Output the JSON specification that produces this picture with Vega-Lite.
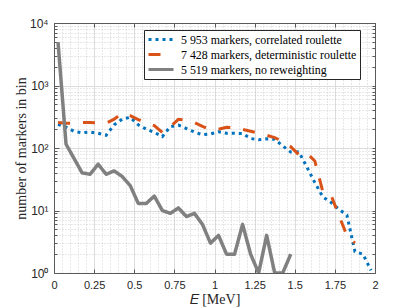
{
  "$schema": "https://vega.github.io/schema/vega-lite/v6.json",
  "width": 321,
  "height": 250,
  "autosize": {"type": "none"},
  "padding": {"left": 54, "top": 23, "right": 40, "bottom": 35},
  "background": "white",
  "config": {
    "view": {"stroke": null},
    "legend": {
      "orient": "none", "legendX": 90, "legendY": 7,
      "padding": 3, "strokeColor": "#262626", "fillColor": "white",
      "labelFont": "Liberation Serif", "labelFontSize": 11.9, "labelColor": "black",
      "symbolType": "M-1,0H4", "symbolSize": 100, "symbolStrokeWidth": 3,
      "rowPadding": 2, "labelOffset": 21, "labelLimit": 0, "cornerRadius": 0
    }
  },
  "datasets": {
    "pts": [
      {"E": 0.025, "n": 240, "s": "5 953 markers, correlated roulette"},
      {"E": 0.075, "n": 215, "s": "5 953 markers, correlated roulette"},
      {"E": 0.125, "n": 185, "s": "5 953 markers, correlated roulette"},
      {"E": 0.175, "n": 175, "s": "5 953 markers, correlated roulette"},
      {"E": 0.225, "n": 180, "s": "5 953 markers, correlated roulette"},
      {"E": 0.275, "n": 172, "s": "5 953 markers, correlated roulette"},
      {"E": 0.325, "n": 160, "s": "5 953 markers, correlated roulette"},
      {"E": 0.375, "n": 235, "s": "5 953 markers, correlated roulette"},
      {"E": 0.425, "n": 290, "s": "5 953 markers, correlated roulette"},
      {"E": 0.475, "n": 310, "s": "5 953 markers, correlated roulette"},
      {"E": 0.525, "n": 235, "s": "5 953 markers, correlated roulette"},
      {"E": 0.575, "n": 200, "s": "5 953 markers, correlated roulette"},
      {"E": 0.625, "n": 178, "s": "5 953 markers, correlated roulette"},
      {"E": 0.675, "n": 152, "s": "5 953 markers, correlated roulette"},
      {"E": 0.725, "n": 220, "s": "5 953 markers, correlated roulette"},
      {"E": 0.775, "n": 232, "s": "5 953 markers, correlated roulette"},
      {"E": 0.825, "n": 205, "s": "5 953 markers, correlated roulette"},
      {"E": 0.875, "n": 180, "s": "5 953 markers, correlated roulette"},
      {"E": 0.925, "n": 163, "s": "5 953 markers, correlated roulette"},
      {"E": 0.975, "n": 168, "s": "5 953 markers, correlated roulette"},
      {"E": 1.025, "n": 182, "s": "5 953 markers, correlated roulette"},
      {"E": 1.075, "n": 172, "s": "5 953 markers, correlated roulette"},
      {"E": 1.125, "n": 172, "s": "5 953 markers, correlated roulette"},
      {"E": 1.175, "n": 170, "s": "5 953 markers, correlated roulette"},
      {"E": 1.225, "n": 142, "s": "5 953 markers, correlated roulette"},
      {"E": 1.275, "n": 135, "s": "5 953 markers, correlated roulette"},
      {"E": 1.325, "n": 140, "s": "5 953 markers, correlated roulette"},
      {"E": 1.375, "n": 138, "s": "5 953 markers, correlated roulette"},
      {"E": 1.425, "n": 108, "s": "5 953 markers, correlated roulette"},
      {"E": 1.475, "n": 86, "s": "5 953 markers, correlated roulette"},
      {"E": 1.525, "n": 87, "s": "5 953 markers, correlated roulette"},
      {"E": 1.575, "n": 50, "s": "5 953 markers, correlated roulette"},
      {"E": 1.625, "n": 28, "s": "5 953 markers, correlated roulette"},
      {"E": 1.675, "n": 16.5, "s": "5 953 markers, correlated roulette"},
      {"E": 1.725, "n": 13.5, "s": "5 953 markers, correlated roulette"},
      {"E": 1.775, "n": 10.5, "s": "5 953 markers, correlated roulette"},
      {"E": 1.825, "n": 8.4, "s": "5 953 markers, correlated roulette"},
      {"E": 1.875, "n": 2.2, "s": "5 953 markers, correlated roulette"},
      {"E": 1.925, "n": 2, "s": "5 953 markers, correlated roulette"},
      {"E": 1.975, "n": 1.1, "s": "5 953 markers, correlated roulette"},
      {"E": 0.025, "n": 255, "s": "7 428 markers, deterministic roulette"},
      {"E": 0.075, "n": 250, "s": "7 428 markers, deterministic roulette"},
      {"E": 0.125, "n": 250, "s": "7 428 markers, deterministic roulette"},
      {"E": 0.175, "n": 255, "s": "7 428 markers, deterministic roulette"},
      {"E": 0.225, "n": 255, "s": "7 428 markers, deterministic roulette"},
      {"E": 0.275, "n": 252, "s": "7 428 markers, deterministic roulette"},
      {"E": 0.325, "n": 250, "s": "7 428 markers, deterministic roulette"},
      {"E": 0.375, "n": 290, "s": "7 428 markers, deterministic roulette"},
      {"E": 0.425, "n": 360, "s": "7 428 markers, deterministic roulette"},
      {"E": 0.475, "n": 330, "s": "7 428 markers, deterministic roulette"},
      {"E": 0.525, "n": 285, "s": "7 428 markers, deterministic roulette"},
      {"E": 0.575, "n": 255, "s": "7 428 markers, deterministic roulette"},
      {"E": 0.625, "n": 228, "s": "7 428 markers, deterministic roulette"},
      {"E": 0.675, "n": 178, "s": "7 428 markers, deterministic roulette"},
      {"E": 0.725, "n": 220, "s": "7 428 markers, deterministic roulette"},
      {"E": 0.775, "n": 288, "s": "7 428 markers, deterministic roulette"},
      {"E": 0.825, "n": 280, "s": "7 428 markers, deterministic roulette"},
      {"E": 0.875, "n": 255, "s": "7 428 markers, deterministic roulette"},
      {"E": 0.925, "n": 222, "s": "7 428 markers, deterministic roulette"},
      {"E": 0.975, "n": 195, "s": "7 428 markers, deterministic roulette"},
      {"E": 1.025, "n": 200, "s": "7 428 markers, deterministic roulette"},
      {"E": 1.075, "n": 215, "s": "7 428 markers, deterministic roulette"},
      {"E": 1.125, "n": 212, "s": "7 428 markers, deterministic roulette"},
      {"E": 1.175, "n": 198, "s": "7 428 markers, deterministic roulette"},
      {"E": 1.225, "n": 185, "s": "7 428 markers, deterministic roulette"},
      {"E": 1.275, "n": 172, "s": "7 428 markers, deterministic roulette"},
      {"E": 1.325, "n": 160, "s": "7 428 markers, deterministic roulette"},
      {"E": 1.375, "n": 147, "s": "7 428 markers, deterministic roulette"},
      {"E": 1.425, "n": 127, "s": "7 428 markers, deterministic roulette"},
      {"E": 1.475, "n": 105, "s": "7 428 markers, deterministic roulette"},
      {"E": 1.525, "n": 78, "s": "7 428 markers, deterministic roulette"},
      {"E": 1.575, "n": 83, "s": "7 428 markers, deterministic roulette"},
      {"E": 1.625, "n": 62, "s": "7 428 markers, deterministic roulette"},
      {"E": 1.675, "n": 20, "s": "7 428 markers, deterministic roulette"},
      {"E": 1.725, "n": 18, "s": "7 428 markers, deterministic roulette"},
      {"E": 1.775, "n": 8.3, "s": "7 428 markers, deterministic roulette"},
      {"E": 1.825, "n": 4, "s": "7 428 markers, deterministic roulette"},
      {"E": 1.875, "n": 3, "s": "7 428 markers, deterministic roulette"},
      {"E": 0.025, "n": 4938, "s": "5 519 markers, no reweighting"},
      {"E": 0.075, "n": 115, "s": "5 519 markers, no reweighting"},
      {"E": 0.125, "n": 68, "s": "5 519 markers, no reweighting"},
      {"E": 0.175, "n": 40, "s": "5 519 markers, no reweighting"},
      {"E": 0.225, "n": 38, "s": "5 519 markers, no reweighting"},
      {"E": 0.275, "n": 55, "s": "5 519 markers, no reweighting"},
      {"E": 0.325, "n": 38, "s": "5 519 markers, no reweighting"},
      {"E": 0.375, "n": 43, "s": "5 519 markers, no reweighting"},
      {"E": 0.425, "n": 35, "s": "5 519 markers, no reweighting"},
      {"E": 0.475, "n": 25, "s": "5 519 markers, no reweighting"},
      {"E": 0.525, "n": 13, "s": "5 519 markers, no reweighting"},
      {"E": 0.575, "n": 13, "s": "5 519 markers, no reweighting"},
      {"E": 0.625, "n": 17, "s": "5 519 markers, no reweighting"},
      {"E": 0.675, "n": 10, "s": "5 519 markers, no reweighting"},
      {"E": 0.725, "n": 9, "s": "5 519 markers, no reweighting"},
      {"E": 0.775, "n": 11, "s": "5 519 markers, no reweighting"},
      {"E": 0.825, "n": 8, "s": "5 519 markers, no reweighting"},
      {"E": 0.875, "n": 9, "s": "5 519 markers, no reweighting"},
      {"E": 0.925, "n": 6, "s": "5 519 markers, no reweighting"},
      {"E": 0.975, "n": 3, "s": "5 519 markers, no reweighting"},
      {"E": 1.025, "n": 4, "s": "5 519 markers, no reweighting"},
      {"E": 1.075, "n": 2, "s": "5 519 markers, no reweighting"},
      {"E": 1.125, "n": 2, "s": "5 519 markers, no reweighting"},
      {"E": 1.175, "n": 6, "s": "5 519 markers, no reweighting"},
      {"E": 1.225, "n": 2, "s": "5 519 markers, no reweighting"},
      {"E": 1.275, "n": 1, "s": "5 519 markers, no reweighting"},
      {"E": 1.325, "n": 4, "s": "5 519 markers, no reweighting"},
      {"E": 1.375, "n": 1, "s": "5 519 markers, no reweighting"},
      {"E": 1.425, "n": 1, "s": "5 519 markers, no reweighting"},
      {"E": 1.475, "n": 2, "s": "5 519 markers, no reweighting"}
    ]
  },
  "data": {"name": "pts"},
  "layer": [
    {
      "transform": [{"filter": "datum.s == '5 953 markers, correlated roulette'"}],
      "mark": {"type": "line", "clip": true, "strokeWidth": 3, "strokeCap": "butt"},
      "encoding": {
        "x": {"field": "E", "type": "quantitative",
          "scale": {"domain": [0, 2], "nice": false, "zero": false},
          "axis": {"orient": "top", "values": [0,0.05,0.1,0.15,0.2,0.25,0.3,0.35,0.4,0.45,0.5,0.55,0.6,0.65,0.7,0.75,0.8,0.85,0.9,0.95,1,1.05,1.1,1.15,1.2,1.25,1.3,1.35,1.4,1.45,1.5,1.55,1.6,1.65,1.7,1.75,1.8,1.85,1.9,1.95,2],
            "grid": true, "gridDash": [1, 2], "gridColor": "#c4c4c4", "gridWidth": 0.8,
            "ticks": false, "labels": false, "domain": true, "domainColor": "#5a5a5a", "title": null}},
        "y": {"field": "n", "type": "quantitative",
          "scale": {"type": "log", "domain": [1, 10000], "nice": false},
          "axis": {"orient": "right", "values": [1,2,3,4,5,6,7,8,9,10,20,30,40,50,60,70,80,90,100,200,300,400,500,600,700,800,900,1000,2000,3000,4000,5000,6000,7000,8000,9000,10000],
            "grid": true, "gridDash": [1, 2], "gridColor": "#c4c4c4", "gridWidth": 0.8,
            "ticks": true, "tickSize": -3, "tickColor": "#5a5a5a", "labels": false,
            "domain": true, "domainColor": "#5a5a5a", "title": null}},
        "color": {"field": "s", "type": "nominal", "legend": {"title": null},
          "scale": {"domain": ["5 953 markers, correlated roulette", "7 428 markers, deterministic roulette", "5 519 markers, no reweighting"],
                    "range": ["#0072BD", "#D95319", "#808080"]}},
        "strokeDash": {"field": "s", "type": "nominal", "legend": {"title": null},
          "scale": {"domain": ["5 953 markers, correlated roulette", "7 428 markers, deterministic roulette", "5 519 markers, no reweighting"],
                    "range": [[3, 4], [12, 13], [1, 0]]}}
      }
    },
    {
      "transform": [{"filter": "datum.s == '7 428 markers, deterministic roulette'"}],
      "mark": {"type": "line", "clip": true, "strokeWidth": 3, "strokeCap": "butt"},
      "encoding": {
        "x": {"field": "E", "type": "quantitative",
          "scale": {"domain": [0, 2], "nice": false, "zero": false},
          "axis": {"orient": "bottom", "values": [0,0.25,0.5,0.75,1,1.25,1.5,1.75,2],
            "labelExpr": "'' + datum.value", "labelFlush": false,
            "grid": true, "gridColor": "#dcdcdc", "gridWidth": 1,
            "ticks": true, "tickSize": -4, "tickColor": "#5a5a5a",
            "labels": true, "labelPadding": 10, "labelFont": "Liberation Sans", "labelFontSize": 11, "labelColor": "#262626",
            "domain": true, "domainColor": "#5a5a5a",
            "title": "𝐸 [MeV]", "titleFont": "Liberation Serif", "titleFontSize": 14, "titleFontWeight": "normal", "titleColor": "#262626", "titlePadding": 2}},
        "y": {"field": "n", "type": "quantitative",
          "scale": {"type": "log", "domain": [1, 10000], "nice": false},
          "axis": {"orient": "left", "values": [1, 10, 100, 1000, 10000],
            "labelExpr": "datum.value == 1 ? '10⁰' : datum.value == 10 ? '10¹' : datum.value == 100 ? '10²' : datum.value == 1000 ? '10³' : '10⁴'",
            "labelFlush": false,
            "grid": true, "gridColor": "#dcdcdc", "gridWidth": 1,
            "ticks": true, "tickSize": -5, "tickColor": "#5a5a5a",
            "labels": true, "labelPadding": 11, "labelFont": "Liberation Sans", "labelFontSize": 12, "labelColor": "#262626",
            "domain": true, "domainColor": "#5a5a5a",
            "title": "number of markers in bin", "titleFont": "Liberation Serif", "titleFontSize": 14, "titleFontWeight": "normal", "titleColor": "#262626", "titlePadding": 1}},
        "color": {"field": "s", "type": "nominal", "legend": {"title": null}},
        "strokeDash": {"field": "s", "type": "nominal", "legend": {"title": null}}
      }
    },
    {
      "transform": [{"filter": "datum.s == '5 519 markers, no reweighting'"}],
      "mark": {"type": "line", "clip": true, "strokeWidth": 3.5, "strokeJoin": "round"},
      "encoding": {
        "x": {"field": "E", "type": "quantitative",
          "scale": {"domain": [0, 2], "nice": false, "zero": false},
          "axis": {"orient": "top", "values": [0,0.25,0.5,0.75,1,1.25,1.5,1.75,2],
            "grid": false, "ticks": true, "tickSize": -4, "tickColor": "#5a5a5a",
            "labels": false, "domain": false, "title": null}},
        "y": {"field": "n", "type": "quantitative",
          "scale": {"type": "log", "domain": [1, 10000], "nice": false},
          "axis": {"orient": "left", "values": [2,3,4,5,6,7,8,9,20,30,40,50,60,70,80,90,200,300,400,500,600,700,800,900,2000,3000,4000,5000,6000,7000,8000,9000],
            "grid": false, "ticks": true, "tickSize": -3, "tickColor": "#5a5a5a",
            "labels": false, "domain": false, "title": null}},
        "color": {"field": "s", "type": "nominal", "legend": {"title": null}},
        "strokeDash": {"field": "s", "type": "nominal", "legend": {"title": null}}
      }
    }
  ],
  "resolve": {"axis": {"x": "independent", "y": "independent"}}
}
